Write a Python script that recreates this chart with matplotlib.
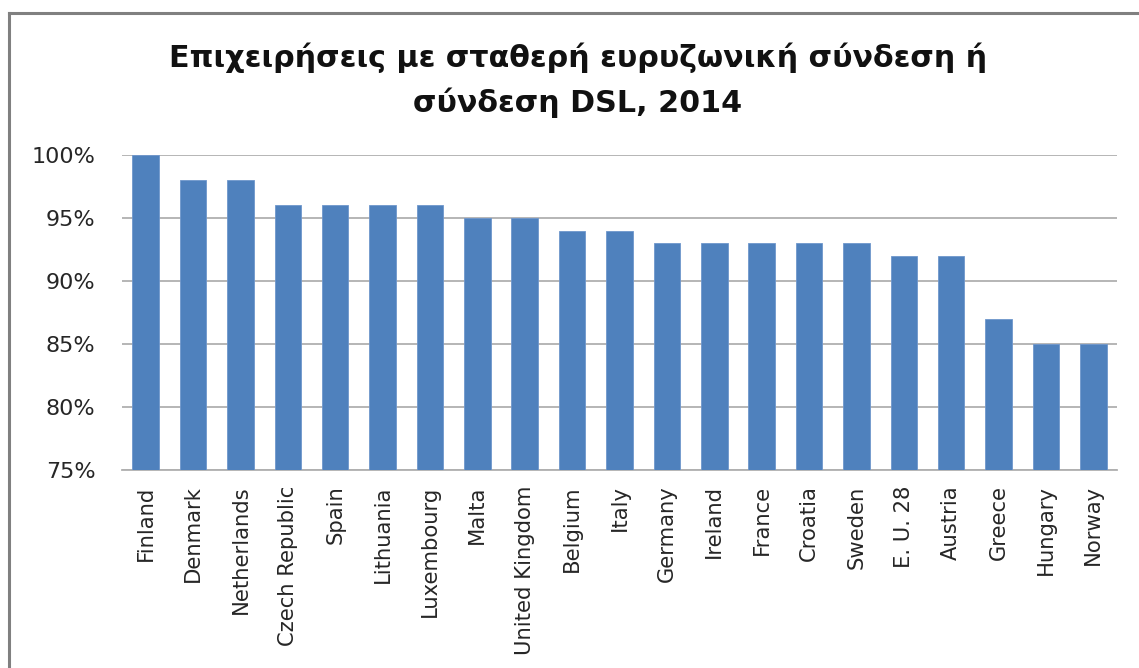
import matplotlib
matplotlib.use("Agg")
import matplotlib.pyplot as plt
from matplotlib.lines import Line2D
from matplotlib.ticker import FuncFormatter

countries = ["Finland", "Denmark", "Netherlands", "Czech Republic", "Spain",
             "Lithuania", "Luxembourg", "Malta", "United Kingdom", "Belgium",
             "Italy", "Germany", "Ireland", "France", "Croatia", "Sweden",
             "E. U. 28", "Austria", "Greece", "Hungary", "Norway"]
shares = [100, 98, 98, 96, 96, 96, 96, 95, 95, 94, 94, 93, 93, 93, 93, 93,
          92, 92, 87, 85, 85]
yticks = [75, 80, 85, 90, 95, 100]

title_lines = ["Επιχειρήσεις με σταθερή ευρυζωνική σύνδεση ή",
               "σύνδεση DSL, 2014"]

W, H = 1139, 668
fig = plt.figure(figsize=(W / 100, H / 100), dpi=100)
fig.patch.set_facecolor("white")

# outer frame (top and left edges)
fig.add_artist(Line2D([9 / W, 9 / W], [0, 1 - 13 / H], transform=fig.transFigure,
                      color="#808080", lw=2.2))
fig.add_artist(Line2D([9 / W, 1], [1 - 13 / H, 1 - 13 / H], transform=fig.transFigure,
                      color="#808080", lw=2.2))

ax = fig.add_axes([122 / W, 1 - 470 / H, (1117 - 122) / W, (470 - 155) / H])
x = range(len(countries))
ax.bar(x, [s - 75 for s in shares], bottom=75, width=0.56, color="#4F81BD",
       edgecolor="#6F97CC", linewidth=0.6, zorder=3)

ax.set_xlim(-0.5, len(countries) - 0.5)
ax.set_ylim(75, 100)
ax.set_yticks(yticks)
ax.yaxis.set_major_formatter(FuncFormatter(lambda v, p: f"{v:.0f}%"))
ax.grid(axis="y", color="#B0B0B0", linewidth=1.3, zorder=0)
ax.set_axisbelow(True)
for s in ["top", "right", "left"]:
    ax.spines[s].set_visible(False)
ax.spines["bottom"].set_color("#B0B0B0")
ax.spines["bottom"].set_linewidth(1.3)

ax.set_xticks(list(x))
ax.set_xticklabels(countries, rotation=90, va="top", ha="center",
                   fontsize=15.2, color="#262626", family="DejaVu Sans")
ax.tick_params(axis="x", length=0, pad=11)
ax.tick_params(axis="y", length=0, pad=19, labelsize=16, labelcolor="#262626")

fig.text(578 / W, 1 - 67 / H, title_lines[0], ha="center", va="baseline",
         fontsize=21.7, fontweight="bold", family="DejaVu Sans", color="#111111")
fig.text(578 / W, 1 - 112 / H, title_lines[1], ha="center", va="baseline",
         fontsize=21.7, fontweight="bold", family="DejaVu Sans", color="#111111")

fig.savefig("out.png", dpi=100)
